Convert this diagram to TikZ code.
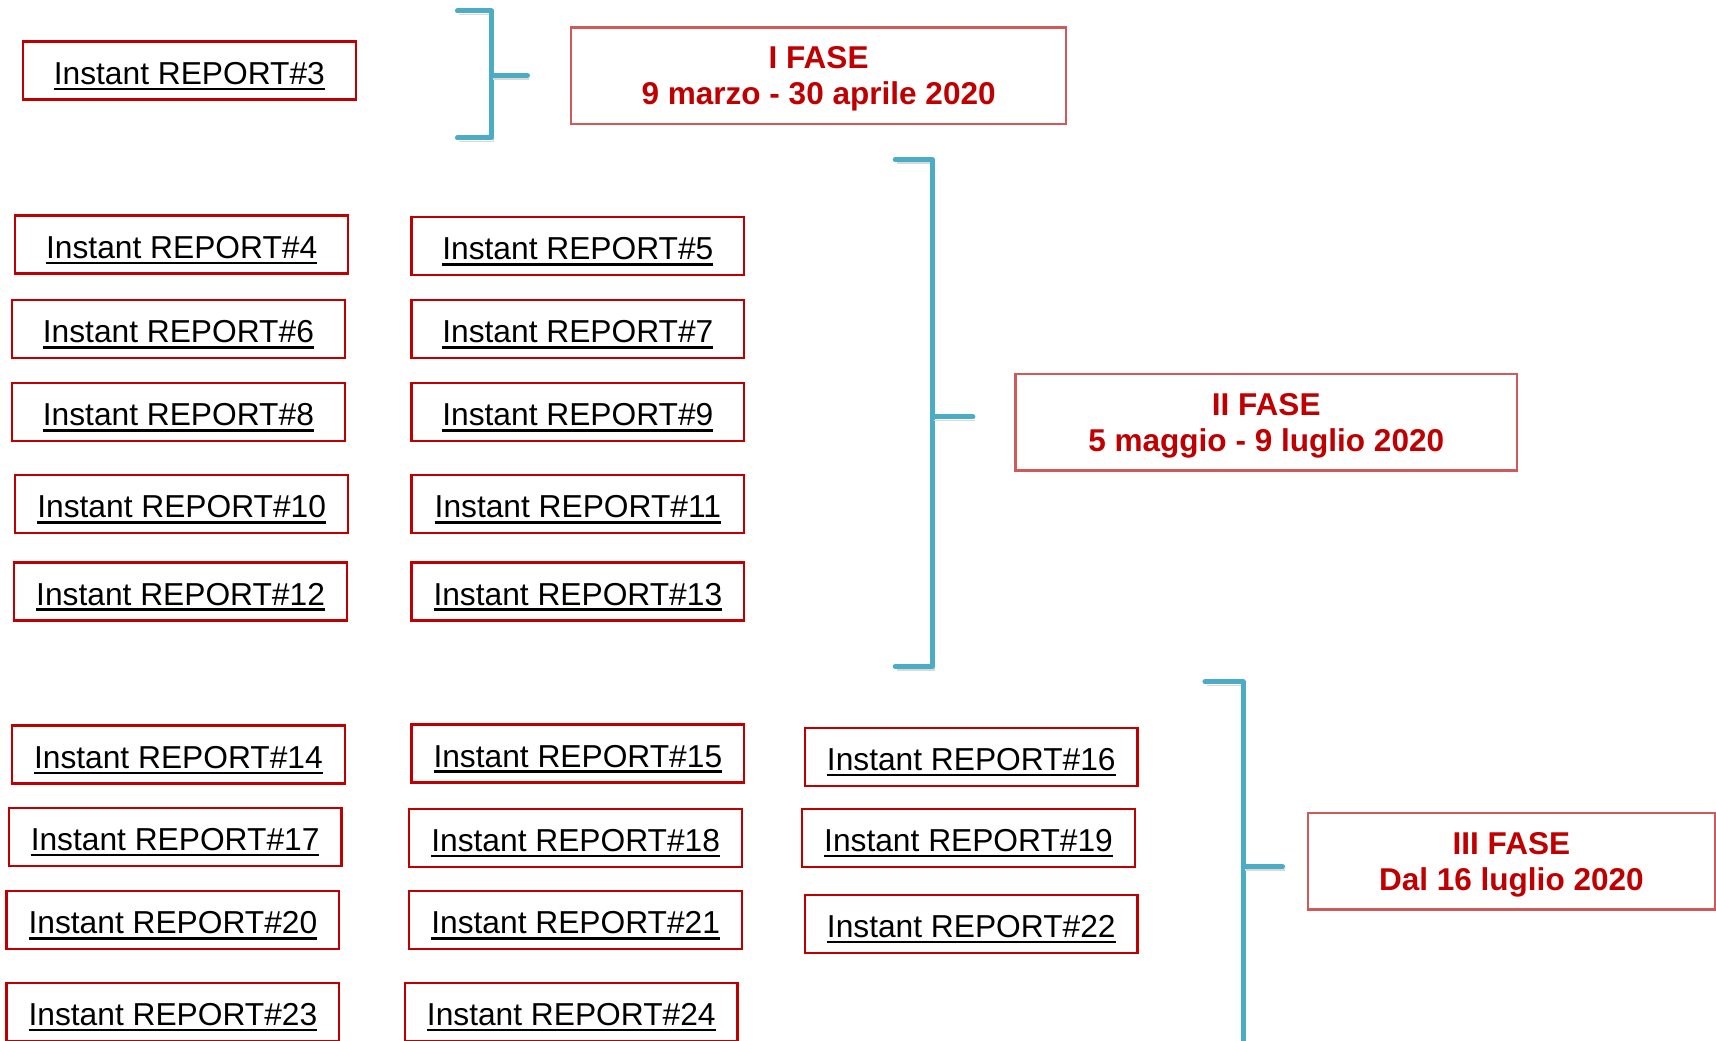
\documentclass[tikz,border=0pt]{standalone}
\usepackage{fontspec}
\setmainfont{Liberation Sans}
\newfontfamily\reportfont{Liberation Sans}
\newfontfamily\fasefont{Liberation Sans}
\definecolor{reportred}{HTML}{C00000}
\definecolor{faseborder}{HTML}{D05A5A}
\definecolor{bracketblue}{HTML}{4BACC6}
\newcommand{\report}[1]{\setbox0\hbox{Instant REPORT\##1}\rlap{\rule[-0.055cm]{\wd0}{0.025cm}}\box0}
\tikzset{
    reportbox/.style={draw=reportred, line width=0.6pt, minimum width=3.04cm, minimum height=0.53cm, inner sep=0pt, text height=0.25cm, text depth=0cm, font=\reportfont\fontsize{8.25}{10}\selectfont},
    fasebox/.style={draw=faseborder, line width=0.6pt, minimum height=0.88cm, align=center, text depth=0pt, text=reportred, font=\fasefont\bfseries\fontsize{8.2}{9.5}\selectfont},
    bracket/.style={draw=bracketblue, line width=1.3pt, line cap=round, line join=round,
        preaction={draw=black!15, transform canvas={xshift=0.5pt, yshift=-0.9pt}}}
}
\begin{document}
\begin{tikzpicture}[x=0.1mm, y=-0.1mm]
            \useasboundingbox (0,0) rectangle (1568,951);

            \node[reportbox] (r3) at (173,64.5) {\report{3}};
            \node[reportbox] (r4) at (166,223.5) {\report{4}};
            \node[reportbox] (r5) at (528,225) {\report{5}};
            \node[reportbox] (r6) at (163,300.5) {\report{6}};
            \node[reportbox] (r7) at (528,300.5) {\report{7}};
            \node[reportbox] (r8) at (163,376.5) {\report{8}};
            \node[reportbox] (r9) at (528,376.5) {\report{9}};
            \node[reportbox] (r10) at (166,460.5) {\report{10}};
            \node[reportbox] (r11) at (528,460.5) {\report{11}};
            \node[reportbox] (r12) at (165,540.5) {\report{12}};
            \node[reportbox] (r13) at (528,540.5) {\report{13}};
            \node[reportbox] (r14) at (163,689.5) {\report{14}};
            \node[reportbox] (r15) at (528,688.5) {\report{15}};
            \node[reportbox] (r16) at (887.5,691.5) {\report{16}};
            \node[reportbox] (r17) at (160,764.5) {\report{17}};
            \node[reportbox] (r18) at (526,765.5) {\report{18}};
            \node[reportbox] (r19) at (885,765.5) {\report{19}};
            \node[reportbox] (r20) at (158,840.5) {\report{20}};
            \node[reportbox] (r21) at (526,840.5) {\report{21}};
            \node[reportbox] (r22) at (887.5,844) {\report{22}};
            \node[reportbox] (r23) at (158,924.5) {\report{23}};
            \node[reportbox] (r24) at (522,924.5) {\report{24}};

            \node[fasebox, minimum width=4.52cm] (fase1) at (748,69) {I FASE\\9 marzo - 30 aprile 2020};
            \node[fasebox, minimum width=4.58cm] (fase2) at (1157,386) {II FASE\\5 maggio - 9 luglio 2020};
            \node[fasebox, minimum width=3.72cm] (fase3) at (1381,787) {III FASE\\Dal 16 luglio 2020};

            % brackets
            \coordinate (b1top) at (418,10); \coordinate (b1bot) at (418,126);
            \coordinate (b1mid) at (449,69); \coordinate (b1tip) at (482,69);
            \coordinate (b2top) at (818,146); \coordinate (b2bot) at (818,609);
            \coordinate (b2mid) at (852,381); \coordinate (b2tip) at (889,381);
            \coordinate (b3top) at (1101,623); \coordinate (b3bot) at (1136,970);
            \coordinate (b3mid) at (1136,792); \coordinate (b3tip) at (1172,792);

            \draw[bracket] (b1top) -| (b1mid) |- (b1bot); \draw[bracket] (b1mid) -- (b1tip);
            \draw[bracket] (b2top) -| (b2mid) |- (b2bot); \draw[bracket] (b2mid) -- (b2tip);
            \draw[bracket] (b3top) -| (b3bot); \draw[bracket] (b3mid) -- (b3tip);
        \end{tikzpicture}
\end{document}
